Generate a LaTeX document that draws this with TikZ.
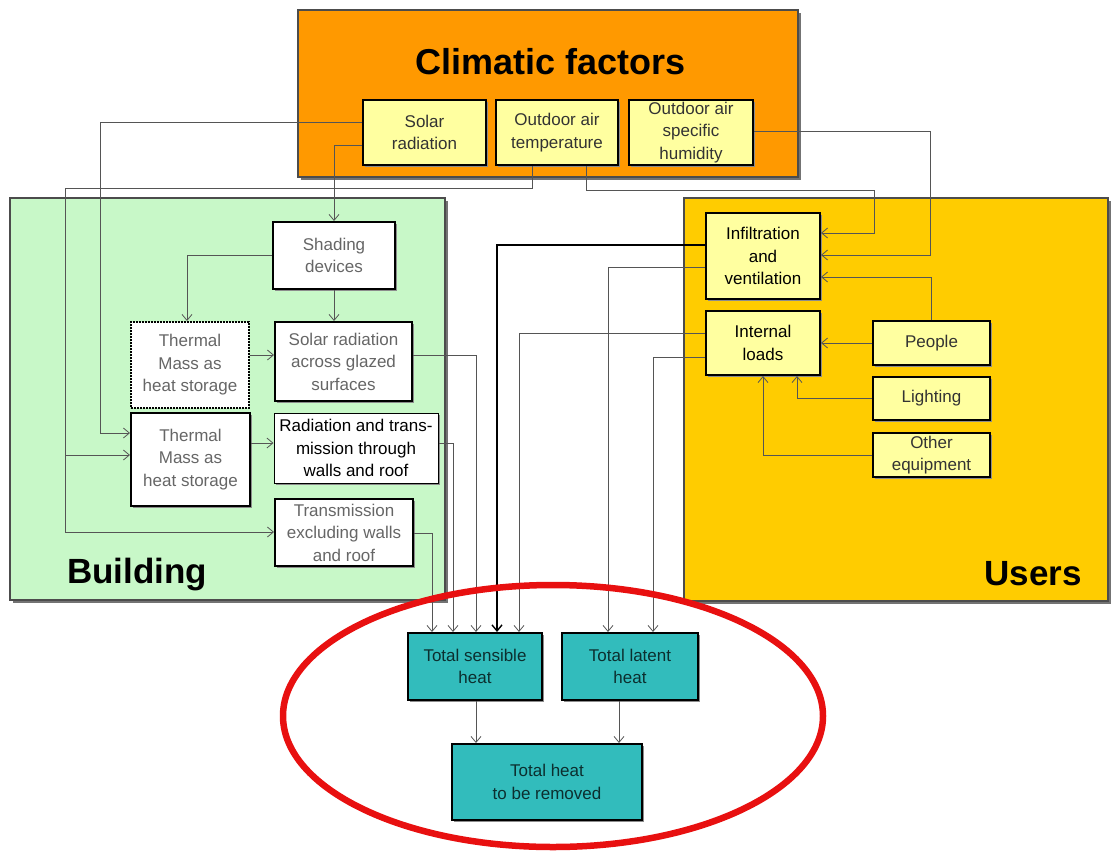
\documentclass[tikz,border=0pt]{standalone}
\usepackage{fontspec}
\setmainfont{Liberation Sans}
\usepackage{tikz}
\usetikzlibrary{arrows.meta, shadows, calc}
\definecolor{climO}{RGB}{255,153,0}
\definecolor{bldgG}{RGB}{200,248,200}
\definecolor{userY}{RGB}{255,204,0}
\definecolor{boxY}{RGB}{255,255,160}
\definecolor{heatT}{RGB}{50,188,188}
\definecolor{ringR}{RGB}{232,16,16}
\definecolor{connK}{RGB}{85,85,85}

\begin{document}
\begin{tikzpicture}[x=1pt, y=-1pt,
  boxfont/.style={font=\fontsize{17}{22.5}\selectfont},
  bigbox/.style={draw=black!70, line width=1.5pt,
    drop shadow={shadow xshift=3pt, shadow yshift=-3pt, fill=black!55, opacity=1}},
  nbox/.style={boxfont, draw=black, line width=2pt, align=center, inner sep=1pt},
  shbox/.style={drop shadow={shadow xshift=1.5pt, shadow yshift=-1.5pt, fill=black!45, opacity=1}},
  ybox/.style={nbox, shbox, fill=boxY, text=black!80},
  wbox/.style={nbox, shbox, fill=white, text=black!60},
  tbox/.style={nbox, shbox, fill=heatT, text=heatT!25!black},
  conn/.style={draw=connK, line width=0.8pt, -{Straight Barb[length=6pt, width=10pt]}},
  title/.style={font=\fontsize{35}{40}\selectfont\bfseries, inner sep=0pt}]
\useasboundingbox (0,0) rectangle (1111,851);
% the three groups
\node[bigbox, fill=climO, minimum width=500pt, minimum height=167pt] (climbox) at (548,93.5) {};
\node[bigbox, fill=bldgG, minimum width=435pt, minimum height=402pt] (bldgbox) at (227.5,399) {};
\node[bigbox, fill=userY, minimum width=424pt, minimum height=403pt] (userbox) at (896,399.5) {};
\node[title, font=\fontsize{36}{40}\selectfont\bfseries] (climtitle) at (551,62) {Climatic factors};
\node[title, anchor=base west] (bldgtitle) at (67,583) {Building};
\node[title, anchor=base east] (usertitle) at (1082,585) {Users};
% climatic factors
\node[ybox, minimum width=123pt, minimum height=65pt] (solar) at (424.5,132.5) {Solar\\radiation};
\node[ybox, minimum width=122pt, minimum height=65pt] (temp) at (557,132.5) {Outdoor air\\temperature};
\node[ybox, minimum width=124pt, minimum height=65pt] (humid) at (691,132.5) {Outdoor air\\specific\\humidity};
% building
\node[wbox, minimum width=122pt, minimum height=67pt] (shading) at (334,255.5) {Shading\\devices};
\node[wbox, minimum width=137pt, minimum height=79pt] (glazed) at (343.5,361.5) {Solar radiation\\across glazed\\surfaces};
\node[nbox, densely dotted, fill=white, text=black!60, minimum width=118pt, minimum height=86pt] (tmdot) at (190,365) {Thermal\\Mass as\\heat storage};
\node[wbox, minimum width=119pt, minimum height=93pt] (tmass) at (190.5,459.5) {Thermal\\Mass as\\heat storage};
\node[wbox, line width=1pt, text=black, minimum width=164pt, minimum height=70pt] (radtr) at (356,448) {Radiation and trans-\\mission through\\walls and roof};
\node[wbox, inner sep=0pt, minimum width=138pt, minimum height=67pt] (transx) at (344,532.5) {Transmission\\excluding walls\\and roof};
% users
\node[ybox, text=black, minimum width=114pt, minimum height=86pt] (infil) at (763,256) {Infiltration\\and\\ventilation};
\node[ybox, text=black, minimum width=114pt, minimum height=64pt] (intl) at (763,343) {Internal\\loads};
\node[ybox, minimum width=117pt, minimum height=44pt] (people) at (931.5,343) {People};
\node[ybox, minimum width=117pt, minimum height=43pt] (light) at (931.5,398.5) {Lighting};
\node[ybox, minimum width=117pt, minimum height=44pt] (other) at (931.5,455) {Other\\equipment};
% totals
\node[tbox, minimum width=134pt, minimum height=67pt] (sens) at (475,666.5) {Total sensible\\heat};
\node[tbox, minimum width=136pt, minimum height=67pt] (latent) at (630,666.5) {Total latent\\heat};
\node[tbox, minimum width=190pt, minimum height=76pt] (total) at (547,782) {Total heat\\to be removed};
% climatic factors to building and users
\draw[conn] (solar.west |- 0,122) -| (100,433) -- (tmass.west |- 0,433);
\draw[conn] (solar.west |- 0,145) -| (shading.north);
\draw[conn] (temp.south -| 532,0) |- (65,188) |- (transx.west |- 0,532);
\draw[conn] (65,455) -- (tmass.west |- 0,455);
\draw[conn] (temp.south -| 586,0) |- (874,190) |- (infil.east |- 0,233);
\draw[conn] (humid.east |- 0,131) -| (930,255) -- (infil.east |- 0,255);
% inside building
\draw[conn] (shading.west) -| (tmdot.north -| 187,0);
\draw[conn] (shading.south) -- (glazed.north -| shading.south);
\draw[conn] (tmdot.east |- 0,355) -- (glazed.west |- 0,355);
\draw[conn] (tmass.east |- 0,443) -- (radtr.west |- 0,443);
% inside users
\draw[conn] (people.north) |- (infil.east |- 0,277);
\draw[conn] (people.west) -- (intl.east);
\draw[conn] (light.west) -| (intl.south -| 797,0);
\draw[conn] (other.west) -| (intl.south);
% to the totals
\draw[conn] (glazed.east |- 0,355) -| (sens.north -| 476,0);
\draw[conn] (radtr.east |- 0,443) -| (sens.north -| 453,0);
\draw[conn] (transx.east |- 0,533) -| (sens.north -| 432,0);
\draw[conn, draw=black, line width=1.4pt] (infil.west |- 0,245) -| (sens.north -| 497,0);
\draw[conn] (intl.west |- 0,333) -| (sens.north -| 519,0);
\draw[conn] (infil.west |- 0,267) -| (latent.north -| 608,0);
\draw[conn] (intl.west |- 0,357) -| (latent.north -| 653,0);
\draw[conn] (sens.south -| 476,0) -- (total.north -| 476,0);
\draw[conn] (latent.south -| 619,0) -- (total.north -| 619,0);
% red ring
\draw[ringR, line width=6.5pt] (553,716) ellipse [x radius=270, y radius=131];
\end{tikzpicture}
\end{document}
